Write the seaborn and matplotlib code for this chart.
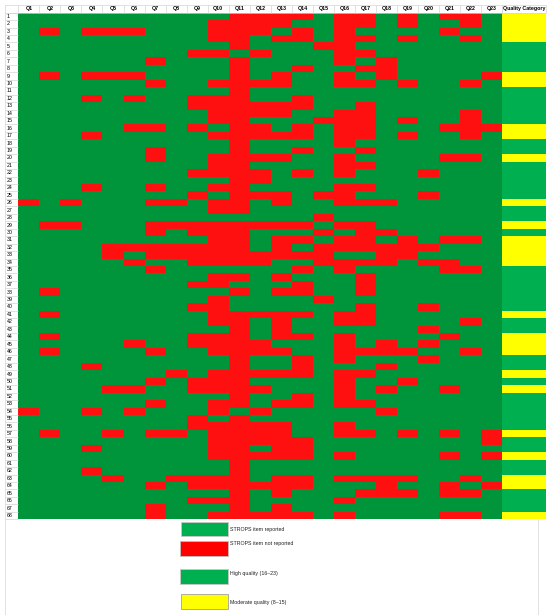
import numpy as np
import pandas as pd
import matplotlib
matplotlib.use("Agg")
import matplotlib.pyplot as plt
from matplotlib.colors import ListedColormap
from matplotlib.patches import Rectangle
import seaborn as sns

# column / row labels
items = [f"Q{i}" for i in range(1, 24)]
studies = [str(i) for i in range(1, 69)]

# items NOT reported (red cells) for each study, study 1 .. 68
not_reported = [
    [11, 12, 13, 14, 16, 17, 19, 21, 22],
    [10, 11, 12, 13, 16, 17, 19, 22],
    [2, 4, 5, 6, 10, 11, 12, 14, 16, 21],
    [10, 11, 13, 14, 16, 17, 19, 22],
    [11, 15, 16],
    [9, 10, 12, 16, 17],
    [7, 11, 16, 18],
    [11, 14, 17, 18],
    [2, 4, 5, 6, 11, 13, 16, 18, 23],
    [7, 10, 11, 12, 13, 16, 17, 19, 22],
    [11],
    [4, 6, 9, 10, 11, 14],
    [9, 10, 11, 12, 13, 14, 17],
    [10, 11, 12, 13, 16, 17, 22],
    [10, 11, 15, 16, 17, 19, 22],
    [6, 7, 9, 11, 12, 14, 16, 17, 21, 22, 23],
    [4, 10, 11, 12, 13, 14, 16, 17, 19, 22],
    [11, 16],
    [7, 11, 14, 17],
    [7, 10, 11, 12, 13, 16, 21, 22],
    [10, 11, 16, 17],
    [9, 10, 11, 12, 14, 16, 20],
    [11, 12],
    [4, 7, 10, 11, 16, 17],
    [9, 11, 12, 13, 15, 16, 20],
    [1, 3, 7, 8, 10, 11, 13, 16, 17, 18],
    [10, 11],
    [15],
    [2, 3, 7, 8, 9, 10, 11, 12, 13, 14, 16, 17],
    [7, 9, 10, 11, 15, 17, 18],
    [10, 11, 13, 14, 16, 17, 19, 21, 22],
    [5, 6, 7, 8, 9, 10, 11, 13, 15, 16, 17, 18, 19, 20],
    [5, 7, 8, 9, 10, 11, 12, 13, 14, 15, 18, 19],
    [6, 9, 10, 11, 12, 15, 16, 17, 18, 20, 21],
    [7, 14, 16, 21, 22],
    [10, 11, 13, 17],
    [9, 10, 14, 17],
    [2, 11, 13, 14, 17],
    [10, 15],
    [9, 10, 17, 20],
    [2, 10, 11, 12, 13, 14, 16, 17],
    [10, 11, 13, 16, 17, 22],
    [11, 13, 20],
    [2, 9, 10, 11, 13, 14, 16, 21],
    [6, 9, 10, 11, 12, 16, 18, 20],
    [2, 7, 10, 11, 12, 13, 16, 17, 18, 19, 22],
    [11, 14, 16, 20],
    [4, 11, 14, 18],
    [8, 10, 11, 12, 13, 14, 16, 17],
    [7, 9, 10, 11, 16, 19],
    [5, 6, 9, 10, 11, 12, 16, 18, 21],
    [11, 14, 16],
    [7, 10, 11, 13, 14, 16, 17],
    [1, 4, 6, 10, 12, 18],
    [9, 11],
    [9, 10, 11, 12, 13, 16],
    [2, 5, 7, 8, 10, 11, 12, 13, 16, 17, 19, 21, 23],
    [10, 11, 12, 13, 14, 23],
    [4, 10, 11, 13, 14],
    [10, 11, 12, 13, 14, 16, 21, 23],
    [11],
    [4, 11],
    [5, 8, 9, 10, 11, 13, 14, 16, 17, 18, 19, 22],
    [7, 9, 10, 11, 12, 13, 14, 18, 21, 23],
    [11, 13, 17, 18, 19, 21, 22],
    [9, 10, 11, 16],
    [7, 11, 13],
    [7, 10, 11, 12, 13, 14, 16, 21, 22],
]

# quality category per study: H = high (16-23), M = moderate (8-15)
quality = list("MMMMHHHHMM" "HHHHHMMHHM" "HHHHHMHHMH" "MMMMHHHHHH"
               "MHHMMMHHMH" "MHHHHHMHHM" "HHMMHHHM")

legend_labels = ["STROPS item reported", "STROPS item not reported",
                 "High quality (16\u201323)", "Moderate quality (8\u201315)"]

GREEN = "#00953A"
RED = "#FF1010"
Q_GREEN = "#00B050"
YELLOW = "#FFFF00"
LINE = "#d4d4d4"

grid = np.zeros((len(studies), len(items)))
for r, miss in enumerate(not_reported):
    grid[r, np.array(miss) - 1] = 1
df = pd.DataFrame(grid, index=studies, columns=items)
qdf = pd.DataFrame({"Quality Category": [1 if q == "M" else 0 for q in quality]},
                   index=studies)

plt.rcParams["font.family"] = ["Liberation Sans Narrow", "Liberation Sans", "DejaVu Sans"]

W, H = 550, 615
fig = plt.figure(figsize=(W / 100, H / 100), dpi=100)

top, bot = 12.7, 519.3
x0, x1, x2 = 18.3, 502.3, 546.3
ax = fig.add_axes([x0 / W, 1 - bot / H, (x1 - x0) / W, (bot - top) / H])
axq = fig.add_axes([x1 / W, 1 - bot / H, (x2 - x1) / W, (bot - top) / H])

sns.heatmap(df, ax=ax, cmap=ListedColormap([GREEN, RED]), vmin=0, vmax=1,
            cbar=False, xticklabels=items, yticklabels=studies)
sns.heatmap(qdf, ax=axq, cmap=ListedColormap([Q_GREEN, YELLOW]), vmin=0, vmax=1,
            cbar=False, xticklabels=["Quality Category"], yticklabels=False)

for a in (ax, axq):
    a.xaxis.tick_top()
    a.tick_params(axis="x", length=0, pad=1.2, labelsize=3.8)
    for t in a.get_xticklabels():
        t.set_rotation(0)
        t.set_fontweight("bold")
    a.set_xlabel("")
    a.set_ylabel("")

ax.tick_params(axis="y", length=0, pad=8.3, labelsize=3.8)
for t in ax.get_yticklabels():
    t.set_rotation(0)
    t.set_ha("left")

# spreadsheet-like separators in header and row-label column
hh = 7.7 / ((bot - top) / len(studies))
rw = (x0 - 5) / ((x1 - x0) / len(items))
ax.vlines(np.arange(len(items) + 1), -hh, 0, colors=LINE, lw=0.5, clip_on=False)
ax.hlines([-hh, 0], -rw, len(items), colors=LINE, lw=0.5, clip_on=False)
ax.hlines(np.arange(len(studies) + 1), -rw, 0, colors=LINE, lw=0.5, clip_on=False)
ax.vlines([-rw], -hh, len(studies), colors=LINE, lw=0.5, clip_on=False)
axq.vlines([0, 1], -hh, 0, colors=LINE, lw=0.5, clip_on=False)
axq.hlines([-hh, 0], 0, 1, colors=LINE, lw=0.5, clip_on=False)

# legend area below the grid
lax = fig.add_axes([0, 0, 1, (H - bot) / H])
lax.set_xlim(0, W)
lax.set_ylim(H, bot)
lax.axis("off")
lax.vlines([5, 538], bot, H, colors=LINE, lw=0.5)
boxes = [(180.7, 522.3, 47, 13.4, Q_GREEN, "#c8c8c8", 529.3),
         (180.3, 541.0, 47.5, 15.3, "#FF0000", "#c0c0c0", 544.0),
         (180.3, 569.0, 47.5, 14.7, Q_GREEN, "#c8c8c8", 574.0),
         (180.7, 594.3, 47, 15.0, YELLOW, "#a0a0a0", 602.3)]
for (bx, by, bw, bh, fc, ec, ty), lab in zip(boxes, legend_labels):
    lax.add_patch(Rectangle((bx, by), bw, bh, facecolor=fc, edgecolor=ec, lw=0.6))
    lax.text(bx + bw + 2.5, ty, lab, fontsize=3.8, va="center", ha="left",
             color="#222222")

fig.savefig("out.png", dpi=100)
